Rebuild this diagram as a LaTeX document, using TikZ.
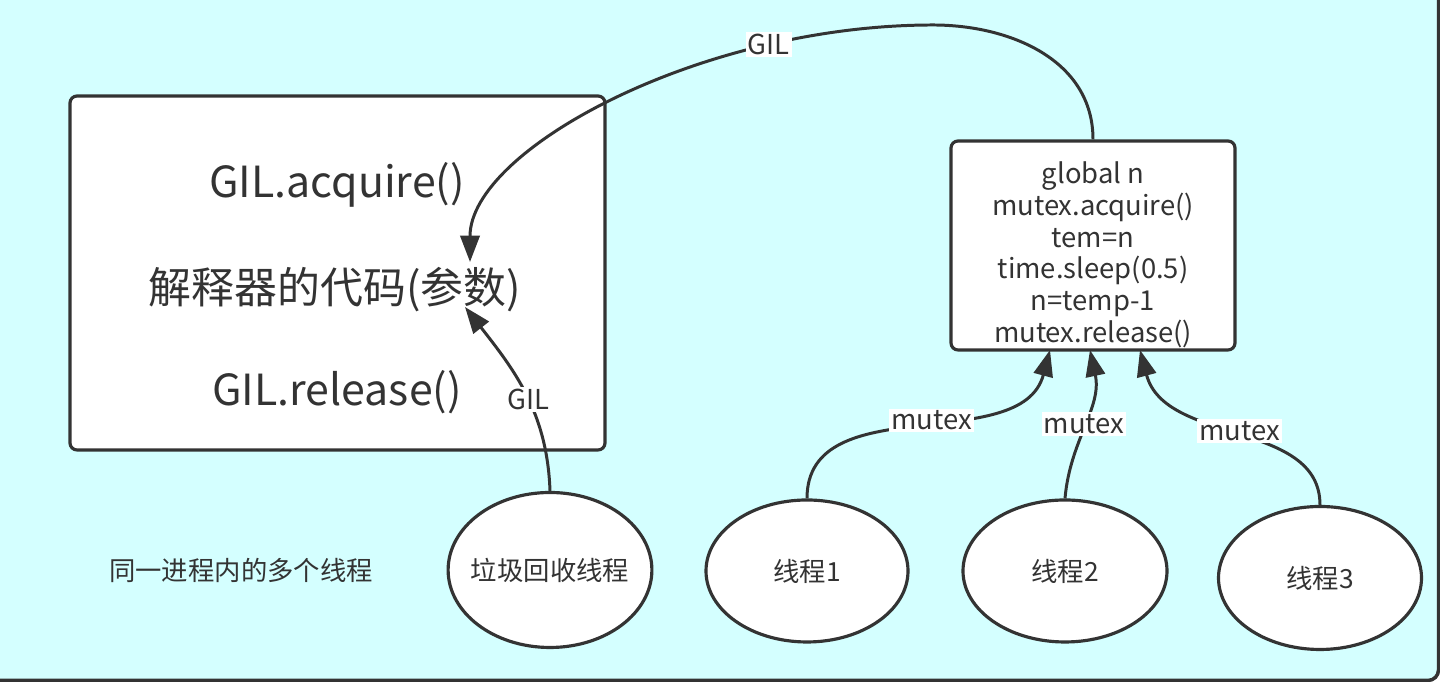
\documentclass[tikz,border=0pt]{standalone}
\usepackage{fontspec}
\setmainfont{Noto Sans CJK SC}
\usetikzlibrary{arrows.meta,shapes.geometric}
\definecolor{bgcyan}{RGB}{212,255,255}
\definecolor{ink}{RGB}{51,51,51}

\begin{document}
\begin{tikzpicture}[
    color=ink, line width=0.85pt,
    box/.style={draw, fill=white, rounded corners=2pt, line width=0.9pt},
    thread/.style={draw, fill=white, ellipse, inner sep=0pt, line width=0.9pt, font=\fontsize{7.5}{9}\selectfont},
    lbl/.style={fill=white, inner sep=0.6pt, font=\fontsize{7.8}{9}\selectfont},
    big/.style={font=\fontsize{12.2}{14}\selectfont},
    arr/.style={-{Triangle[length=7.5pt,width=5.5pt]}}
]
    % Background
    \useasboundingbox (0,0) rectangle (14.4,6.82);
    \draw[fill=bgcyan, line width=1pt, rounded corners=3pt] (-0.5,0.015) rectangle (14.385,7.5);

    % Interpreter box
    \node[box, minimum width=5.35cm, minimum height=3.54cm] (lbox) at (3.375,4.09) {};
    \node[big] (acq) at (3.37,4.97) {GIL.acquire()};
    \node[big] (code) at (3.35,3.92) {解释器的代码(参数)};
    \node[big] (rel) at (3.37,2.90) {GIL.release()};
    \coordinate (gilin) at (4.70,4.20);
    \coordinate (gcin) at (4.65,3.75);

    % Thread function box
    \node[box, inner ysep=0pt, minimum width=2.84cm, minimum height=2.09cm, align=center, font=\fontsize{7.8}{9.1}\selectfont] (rbox) at (10.93,4.365)
        {\rule{0pt}{11.5pt}global n\\mutex.acquire()\\tem=n\\time.sleep(0.5)\\n=temp-1\\mutex.release()};
    \coordinate (m1) at (10.50,3.32);
    \coordinate (m2) at (10.90,3.32);
    \coordinate (m3) at (11.40,3.32);

    % Threads
    \node[thread, inner xsep=-2pt, minimum width=2.02cm, minimum height=1.55cm] (gc) at (5.50,1.12) {垃圾回收线程};
    \node[thread, minimum width=2.02cm, minimum height=1.42cm] (t1) at (8.07,1.11) {线程1};
    \node[thread, minimum width=2.04cm, minimum height=1.42cm] (t2) at (10.65,1.11) {线程2};
    \node[thread, minimum width=2.03cm, minimum height=1.43cm] (t3) at (13.20,1.04) {线程3};
    \node[font=\fontsize{7.5}{9}\selectfont] (note) at (2.41,1.12) {同一进程内的多个线程};

    % GIL arrows
    \draw[arr] (rbox.north) .. controls (10.93,6.22) and (10.10,6.57) .. (9.33,6.57)
        .. controls (7.00,6.57) and (4.70,5.32) .. (gilin) node[lbl, pos=0.24] {GIL};
    \draw[arr] (gc.north) to[out=92, in=-52] node[lbl, pos=0.46] {GIL} (gcin);

    % mutex arrows
    \draw[arr] (t1.north) to[out=90, in=-105] node[lbl, pos=0.54] {mutex} (m1);
    \draw[arr] (t2.north) to[out=85, in=-78] node[lbl, pos=0.5] {mutex} (m2);
    \draw[arr] (t3.north) .. controls (13.20,2.62) and (11.65,2.37) .. (m3) node[lbl, pos=0.5] {mutex};
\end{tikzpicture}
\end{document}
